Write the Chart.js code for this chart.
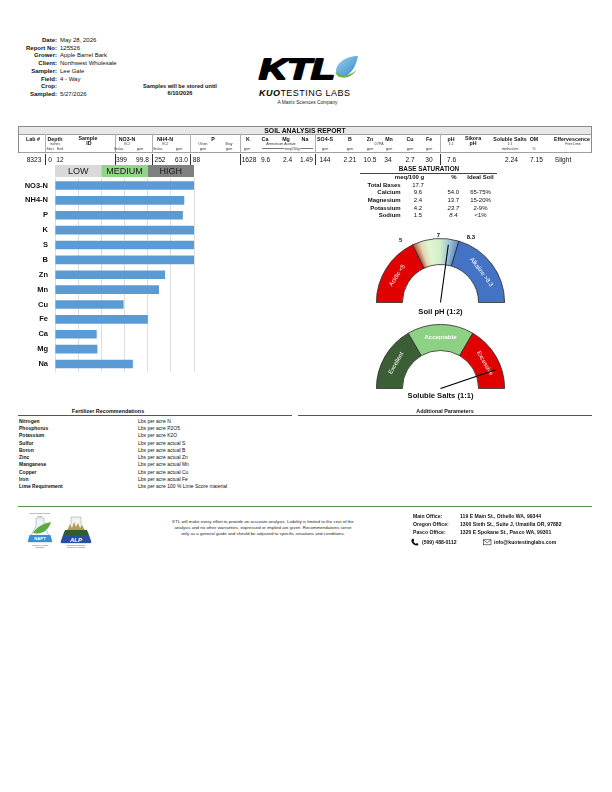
<!DOCTYPE html>
<html><head><meta charset="utf-8">
<script src="https://cdn.jsdelivr.net/npm/chart.js@4.4.1/dist/chart.umd.min.js"></script>
<style>
html,body{margin:0;padding:0;background:#fff}
body{width:612px;height:792px;position:relative;overflow:hidden;font-family:"Liberation Sans",Arial,Helvetica,sans-serif;color:#111}
.t{position:absolute;white-space:nowrap;line-height:1}
.ln{position:absolute}
canvas{position:absolute}
svg{position:absolute}
</style></head><body>
<canvas id="bars" width="190" height="221" style="left:10px;top:162px;width:190px;height:221px"></canvas>
<canvas id="ph" width="129" height="80" style="left:376px;top:222.5px;width:129px;height:80px"></canvas>
<canvas id="salt" width="129" height="80" style="left:376px;top:308.5px;width:129px;height:80px"></canvas>

<svg style="left:250px;top:50px" width="120" height="60" viewBox="0 0 120 60">
  <defs>
    <linearGradient id="drop" x1="0" y1="0" x2="1" y2="1">
      <stop offset="0" stop-color="#9fd3ee"/><stop offset="1" stop-color="#2f86c8"/>
    </linearGradient>
  </defs>
  <text x="9" y="29" font-family="Liberation Sans" font-weight="bold" font-style="italic" font-size="30" textLength="76" lengthAdjust="spacingAndGlyphs" stroke="#000" stroke-width="2" stroke-linejoin="round" fill="#000">KTL</text>
  <path d="M108,6 C96,6 86,13 86,21 C86,25 88,27 91,27 C99,27 106,18 108,6 Z" fill="url(#drop)"/>
  <path d="M85.5,22 C88,30 101,30 107,19 C101,26 93,27 85.5,22 Z" fill="#6db33f"/>
  <text x="9" y="46" font-family="Liberation Sans" font-size="9" textLength="91" lengthAdjust="spacing"><tspan font-weight="bold" font-style="italic">KUO</tspan><tspan>TESTING LABS</tspan></text>
  <text x="57.5" y="53.8" font-family="Liberation Sans" font-size="4.8" text-anchor="middle" fill="#222">A Matrix Sciences Company</text>
</svg>

<svg style="left:24px;top:511px" width="72" height="42" viewBox="0 0 72 42">
  <text x="16" y="3" font-size="2.2" text-anchor="middle" fill="#444" font-family="Liberation Sans">North Plant Program</text>
  <text x="16" y="5.6" font-size="2.2" text-anchor="middle" fill="#444" font-family="Liberation Sans">2026</text>
  <path d="M12,7 L20,7 L20,15 L28,30 L28,31 L4,31 L4,30 L12,15 Z" fill="#eef4f8" stroke="#9aa" stroke-width="0.6"/>
  <path d="M9,22 C14,14 22,12 27,11 C25,18 19,24 9,22 Z" fill="#5fa843"/>
  <path d="M5.5,24 L26.5,24 L28,30 L28,31 L4,31 L4,30 Z" fill="#3c8fd0"/>
  <text x="16" y="29" font-size="4.2" font-weight="bold" text-anchor="middle" fill="#fff" font-family="Liberation Sans">NAPT</text>
  <text x="16" y="34.5" font-size="2" text-anchor="middle" fill="#444" font-family="Liberation Sans">Proficiency testing</text>
  <text x="16" y="37" font-size="2" text-anchor="middle" fill="#444" font-family="Liberation Sans">Laboratory</text>
  <path d="M47,6 L57,6 L57,13 L67,30 L67,32 L37,32 L37,30 L47,13 Z" fill="#f2f2f2" stroke="#9aa" stroke-width="0.6"/>
  <path d="M44,18 L46,13 L48,17 L50,11 L52,16 L54,12 L56,17 L58,14 L61,20 L42,20 Z" fill="#b59a55"/>
  <path d="M41,19 L63,19 L65,24 L39,24 Z" fill="#2f5e2a"/>
  <path d="M39,24 L65,24 L67,30 L67,32 L37,32 L37,30 Z" fill="#2a4fa0"/>
  <text x="52" y="30.8" font-size="6" font-weight="bold" font-style="italic" text-anchor="middle" fill="#fff" font-family="Liberation Sans">ALP</text>
  <text x="52" y="35" font-size="2" text-anchor="middle" fill="#444" font-family="Liberation Sans">Agricultural Laboratory</text>
  <text x="52" y="37.4" font-size="2" text-anchor="middle" fill="#444" font-family="Liberation Sans">Proficiency Program</text>
</svg>

<svg style="left:410px;top:538px" width="12" height="8" viewBox="0 0 12 8">
  <path d="M2,1 C1,2 1,4 3,6 C5,7.5 7,8 8,7 L8.5,6 L7,5 L6,5.8 C5,5.3 4,4.3 3.5,3.2 L4.3,2.3 L3.3,0.6 Z" fill="#111"/>
</svg>
<svg style="left:483px;top:538.5px" width="9" height="7" viewBox="0 0 9 7">
  <rect x="0.5" y="0.8" width="7.5" height="5" fill="none" stroke="#222" stroke-width="0.6"/>
  <path d="M0.5,0.8 L4.25,3.8 L8,0.8" fill="none" stroke="#222" stroke-width="0.6"/>
</svg>

<script>
// ---------------- DATA ----------------
const headerLabels = ["Date:", "Report No:", "Grower:", "Client:", "Sampler:", "Field:", "Crop:", "Sampled:"];
const headerValues = ["May 28, 2026", "125526", "Apple Barrel Bark", "Northwest Wholesale", "Lee Gale", "4 - Way", "", "5/27/2026"];
const storageNote = ["Samples will be stored until", "6/10/2026"];

const soilColumns = ["Lab #","Depth","Sample","NO3-N","NH4-N","P","K","Ca","Mg","Na","SO4-S","B","Zn","Mn","Cu","Fe","pH","Sikora","Soluble Salts","OM","Effervescence"];
const sampleRow = ["8323","0","12","399","99.8","252","63.0","88","1628","9.6","2.4","1.49","144","2.21","10.5","34","2.7","30","7.6","2.24","7.15","Slight"];

const nutrients = ["NO3-N","NH4-N","P","K","S","B","Zn","Mn","Cu","Fe","Ca","Mg","Na"];
const nutrientLevels = [6, 5.58, 5.52, 6, 6, 6, 4.75, 4.49, 2.96, 4.01, 1.80, 1.83, 3.36];
const levelBands = ["LOW", "MEDIUM", "HIGH"];

const totalBases = "17.7";
const baseCations = ["Calcium", "Magnesium", "Potassium", "Sodium"];
const baseMeq = ["9.6", "2.4", "4.2", "1.5"];
const basePct = ["54.0", "13.7", "23.7", "8.4"];
const baseIdeal = ["65-75%", "15-20%", "2-9%", "<1%"];

const phBreaks = [0, 5, 8.3, 14];
const phZones = ["Acidic <5", "", "Alkaline >8.3"];
const phTicks = [5, 7, 8.3];
const phReading = 7.6;

const saltBreaks = [0, 0.83, 1.67, 2.5];
const saltZones = ["Excellent", "Acceptable", "Excessive"];
const saltReading = 2.24;

const fertNutrients = ["Nitrogen","Phosphorus","Potassium","Sulfur","Boron","Zinc","Manganese","Copper","Iron","Lime Requirement"];
const fertUnits = ["Lbs per acre N","Lbs per acre P2O5","Lbs per acre K2O","Lbs per acre actual S","Lbs per acre actual B","Lbs per acre actual Zn","Lbs per acre actual Mn","Lbs per acre actual Cu","Lbs per acre actual Fe","Lbs per acre 100 % Lime Score material"];

const disclaimer = ["KTL will make every effort to provide an accurate analysis. Liability is limited to the cost of the",
  "analysis and no other warranties, expressed or implied are given. Recommendations serve",
  "only as a general guide and should be adjusted to specific situations and conditions."];
const officeNames = ["Main Office:", "Oregon Office:", "Pasco Office:"];
const officeAddr = ["119 E Main St., Othello WA, 99344", "1300 Sixth St., Suite J, Umatilla OR, 97882", "1320 E Spokane St., Pasco WA, 99301"];
const phone = "(509) 488-0112";
const email = "info@kuotestinglabs.com";

// ---------------- LAYOUT HELPERS ----------------
function T(txt, x, y, o) {
  o = o || {};
  const d = document.createElement('div');
  d.className = 't'; d.textContent = txt;
  let s = o.s || 6, k = 1;
  if (s < 6) { k = s / 6; s = 6; }
  d.style.fontSize = s + 'px';
  if (o.b) d.style.fontWeight = 'bold';
  if (o.i) d.style.fontStyle = 'italic';
  if (o.c) d.style.color = o.c;
  if (o.bg) { d.style.background = o.bg; d.style.padding = '0 1px'; }
  const a = o.a || 'l';
  const tx = a === 'c' ? -50 : a === 'r' ? -100 : 0;
  d.style.left = x + 'px'; d.style.top = y + 'px';
  d.style.transformOrigin = '0 0';
  d.style.transform = `scale(${k}) translate(${tx}%,-50%)`;
  document.body.appendChild(d);
}
function R(x, y, w, h, c) {
  const d = document.createElement('div');
  d.className = 'ln';
  Object.assign(d.style, {left: x + 'px', top: y + 'px', width: w + 'px', height: h + 'px', background: c});
  document.body.appendChild(d);
}
function H(x1, x2, y, c, w) { R(x1, y - w / 2, x2 - x1, w, c); }
function V(x, y1, y2, c, w) { R(x - w / 2, y1, w, y2 - y1, c); }

// ---------------- HEADER ----------------
headerLabels.forEach((l, i) => {
  const y = 40 + i * 7.7;
  T(l, 57, y, {s: 6, b: 1, a: 'r'});
  if (headerValues[i]) T(headerValues[i], 60, y, {s: 6});
});
T(storageNote[0], 180, 85.5, {s: 5.6, b: 1, a: 'c'});
T(storageNote[1], 180, 93.3, {s: 5.6, b: 1, a: 'c'});

// ---------------- SOIL TABLE ----------------
const colX = [33,55,88,127,165,213,248,265,286,305,325,350,370,389,410,429,451,473,510,534,572];
const rowX = [34,50,60,121.5,142.5,160,181.5,196.5,249,265.5,287.5,306.5,325,350,370,388,410,429,451.5,511.5,536.5,563];
const sepX = [45,115,152.5,190.5,240.5,315,440.5];
R(18.5, 127, 573, 7, '#e8e8e8');
H(18, 592, 126.8, '#869182', 1);
H(18, 592, 134.2, '#a0a0a0', 0.6);
H(18, 592, 152.2, '#a0a0a0', 0.6);
V(18.3, 126.5, 152.5, '#869182', 0.8);
V(591.7, 126.5, 152.5, '#869182', 0.8);
sepX.forEach(x => { V(x, 134.2, 152.2, '#b0b0b0', 0.6); V(x, 153.5, 165, '#333', 0.7); });
T("SOIL ANALYSIS REPORT", 305, 130.7, {s: 6.8, b: 1, a: 'c'});
soilColumns.forEach((c, i) => {
  const twoLine = (c === "Sample" || c === "Sikora");
  T(c, colX[i], twoLine ? 137.6 : 138.5, {s: 5.3, b: 1, a: 'c'});
});
T("ID", 89, 143.4, {s: 5.3, b: 1, a: 'c'});
T("pH", 473, 142.6, {s: 5.3, b: 1, a: 'c'});
const unitA = [["inches",55],["KCl",127],["KCl",165],["Olsen",203],["Bray",229],["Ammonium Acetate",281],["DTPA",379],["1:2",451],["1:1",510],["Free Lime",573]];
const unitB = [["Start",50],["End",60],["lbs/ac",119],["ppm",140],["lbs/ac",158],["ppm",179],["ppm",203],["ppm",229],["ppm",247],
  ["ppm",325],["ppm",350],["ppm",370],["ppm",389],["ppm",410],["ppm",429],["mmhos/cm",510],["%",534]];
unitA.forEach(([t, x]) => T(t, x, 144.2, {s: 3.4, a: 'c', c: '#333'}));
unitB.forEach(([t, x]) => T(t, x, 148.6, {s: 3.4, a: 'c', c: '#333'}));
H(262, 313, 148.6, '#777', 0.4);
T("meq/100g", 292, 148.6, {s: 3.4, a: 'c', c: '#333', bg: '#fff'});
sampleRow.forEach((v, i) => T(v, rowX[i], 159.6, {s: 6.6, a: 'c'}));

// ---------------- BASE SATURATION ----------------
T("BASE SATURATION", 429, 169, {s: 6.4, b: 1, a: 'c'});
H(360, 497, 173.3, '#444', 0.8);
T("meq/100 g", 409.5, 177.4, {s: 6, b: 1, a: 'c'});
T("%", 454, 177.4, {s: 6, b: 1, a: 'c'});
T("Ideal Soil", 480.5, 177.4, {s: 6, b: 1, a: 'c'});
T("Total Bases", 400.7, 185, {s: 6, b: 1, a: 'r'});
T(totalBases, 418, 185, {s: 6, a: 'c'});
baseCations.forEach((n, i) => {
  const y = 192.4 + i * 7.55;
  T(n, 400.7, y, {s: 6, b: 1, a: 'r'});
  T(baseMeq[i], 418, y, {s: 6, a: 'c'});
  T(basePct[i], 453.3, y, {s: 6, a: 'c', i: i >= 2});
  T(baseIdeal[i], 480.5, y, {s: 6, a: 'c'});
});
T("Soil pH (1:2)", 440.5, 311.8, {s: 7.6, b: 1, a: 'c'});
T("Soluble Salts (1:1)", 440.5, 395.6, {s: 7.6, b: 1, a: 'c'});

// ---------------- FERTILIZER / ADDITIONAL ----------------
T("Fertilizer Recommendations", 108, 411, {s: 5.4, b: 1, a: 'c'});
T("Additional Parameters", 445, 411, {s: 5.4, b: 1, a: 'c'});
H(18, 292, 415.6, '#555', 0.8);
H(298, 592, 415.6, '#555', 0.8);
fertNutrients.forEach((n, i) => {
  const y = 421 + i * 7.22;
  T(n, 18.5, y, {s: 5, b: 1});
  T(fertUnits[i], 138, y, {s: 5});
});

// ---------------- FOOTER ----------------
H(18, 592, 506.8, '#5d8f4a', 1.2);
disclaimer.forEach((l, i) => T(l, 263, 521.5 + i * 6, {s: 4.4, a: 'c', c: '#222'}));
officeNames.forEach((n, i) => {
  const y = [516, 524.2, 531.6][i];
  T(n, 413, y, {s: 5.1, b: 1});
  T(officeAddr[i], 460, y, {s: 5.1, b: 1});
});
T(phone, 421.5, 541.6, {s: 5.1, b: 1});
T(email, 493.5, 541.6, {s: 5.1, b: 1});

// ---------------- BAR CHART ----------------
const FONT = "'Liberation Sans', Arial, sans-serif";
const bandColors = ['#d9d9d9', '#8fd686', '#808080'];
const bandPlugin = {
  id: 'bands',
  beforeDraw(chart) {
    const {ctx, chartArea} = chart;
    const xs = chart.scales.x;
    const w = (xs.max - xs.min) / levelBands.length;
    levelBands.forEach((b, i) => {
      const x0 = xs.getPixelForValue(xs.min + i * w), x1 = xs.getPixelForValue(xs.min + (i + 1) * w);
      const y0 = chartArea.top - 13, y1 = chartArea.top - 1;
      ctx.fillStyle = bandColors[i];
      ctx.fillRect(x0, y0, x1 - x0, y1 - y0);
      ctx.fillStyle = '#1a1a1a';
      ctx.font = '9px ' + FONT;
      ctx.textAlign = 'center'; ctx.textBaseline = 'middle';
      ctx.fillText(b, (x0 + x1) / 2, (y0 + y1) / 2 + 0.5);
    });
  }
};
new Chart(document.getElementById('bars'), {
  type: 'bar',
  data: {labels: nutrients, datasets: [{data: nutrientLevels, backgroundColor: '#5B9BD5', barPercentage: 0.58, categoryPercentage: 1}]},
  options: {
    indexAxis: 'y', responsive: false, animation: false,
    layout: {padding: {top: 16, right: 6, bottom: 3, left: 0}},
    plugins: {legend: {display: false}, tooltip: {enabled: false}},
    scales: {
      x: {min: 0, max: 6, ticks: {display: false, stepSize: 1}, grid: {color: '#d6d6d6', lineWidth: 0.8, drawTicks: false}, border: {display: false}},
      y: {ticks: {color: '#111', font: {family: FONT, size: 7.5, weight: 'bold'}, padding: 7},
          grid: {display: false, drawTicks: false}, border: {display: false},
          afterFit(s) { s.width = 45; }}
    }
  },
  plugins: [bandPlugin]
});

// ---------------- GAUGES ----------------
const phStops = [[0, '#b4503c'], [0.16, '#e2d7b4'], [0.33, '#e0f6d2'], [0.6, '#d2efc9'], [0.82, '#9cc2d4'], [1, '#5b8cc4']];
function gauge(id, breaks, zones, colors, reading, ticks, gradIdx, boldIdx) {
  const sizes = breaks.slice(1).map((b, i) => +(b - breaks[i]).toFixed(3));
  const min = breaks[0], max = breaks[breaks.length - 1];
  const ang = v => Math.PI + (v - min) / (max - min) * Math.PI;
  const plug = {
    id: 'g' + id,
    beforeDatasetsDraw(chart) {
      if (gradIdx < 0) return;
      const arc = chart.getDatasetMeta(0).data[gradIdx];
      const g = chart.ctx.createConicGradient(arc.startAngle, arc.x, arc.y);
      const span = (arc.endAngle - arc.startAngle) / (2 * Math.PI);
      phStops.forEach(([p, c]) => g.addColorStop(p * span, c));
      arc.options.backgroundColor = g;
    },
    afterDatasetsDraw(chart) {
      const ctx = chart.ctx;
      const a0 = chart.getDatasetMeta(0).data[0];
      const cx = a0.x, cy = a0.y, Ro = a0.outerRadius, Ri = a0.innerRadius;
      zones.forEach((z, i) => {
        if (!z) return;
        const a = ang((breaks[i] + breaks[i + 1]) / 2), rr = (Ro + Ri) / 2;
        ctx.save();
        ctx.translate(cx + rr * Math.cos(a), cy + rr * Math.sin(a));
        ctx.rotate(a + Math.PI / 2);
        ctx.fillStyle = '#fff';
        ctx.font = (i === boldIdx ? 'bold ' : '') + '6px ' + FONT;
        ctx.textAlign = 'center'; ctx.textBaseline = 'middle';
        ctx.fillText(z, 0, 0);
        ctx.restore();
      });
      ctx.save();
      ctx.fillStyle = '#111'; ctx.font = 'bold 6px ' + FONT;
      ctx.textAlign = 'center'; ctx.textBaseline = 'middle';
      ticks.forEach(t => {
        const a = ang(t), c = Math.cos(a);
        const px = cx + Ro * c, py = cy + Ro * Math.sin(a);
        const dx = Math.abs(c) < 0.1 ? -2 : Math.sign(c) * 12;
        const dy = Math.abs(c) < 0.1 ? -3.5 : -4;
        ctx.fillText(String(t), px + dx, py + dy);
      });
      const a = ang(reading), L = Ro * 0.91;
      ctx.beginPath();
      ctx.moveTo(cx, cy);
      ctx.lineTo(cx + L * Math.cos(a), cy + L * Math.sin(a));
      ctx.strokeStyle = '#000'; ctx.lineWidth = 1.1;
      ctx.stroke();
      ctx.restore();
    }
  };
  new Chart(document.getElementById(id), {
    type: 'doughnut',
    data: {labels: zones, datasets: [{data: sizes, backgroundColor: colors, borderColor: '#2a2a2a', borderWidth: 0.8}]},
    options: {responsive: false, animation: false, rotation: -90, circumference: 180, cutout: '59.4%',
      layout: {padding: {top: 15, left: 0, right: 0, bottom: 0}},
      plugins: {legend: {display: false}, tooltip: {enabled: false}}},
    plugins: [plug]
  });
}
gauge('ph', phBreaks, phZones, ['#E00000', '#d8f2cc', '#4472C4'], phReading, phTicks, 1, -1);
gauge('salt', saltBreaks, saltZones, ['#3B5E36', '#8DD184', '#E00000'], saltReading, [], -1, 1);
</script>
</body></html>
